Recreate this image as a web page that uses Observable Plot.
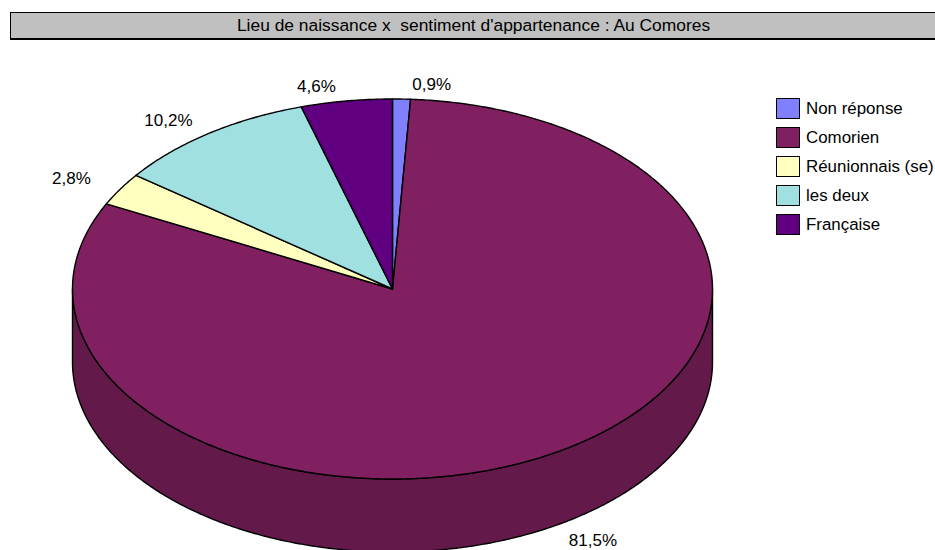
<!DOCTYPE html>
<html>
<head>
<meta charset="utf-8">
<script src="https://cdn.jsdelivr.net/npm/d3@7"></script>
<script src="https://cdn.jsdelivr.net/npm/@observablehq/plot@0.6"></script>
<style>
  body { margin: 0; background: #fff; font-family: "Liberation Sans", Arial, sans-serif; }
  #wrap { position: relative; width: 935px; height: 550px; overflow: hidden; }
  #title {
    position: absolute; left: 10px; top: 12px; width: 927px; height: 28px;
    background: #c0c0c0; border: 1px solid #000; border-bottom-width: 2px; box-sizing: border-box;
    font-size: 17.4px; line-height: 25px; text-align: center; color: #000; white-space: pre;
  }
  #legend { position: absolute; left: 776px; top: 94px; }
  .item { display: flex; align-items: center; height: 29px; }
  .sw { width: 22px; height: 19px; border: 1.5px solid #000; margin-right: 6px; box-sizing: content-box; flex: none; }
  .lab { font-size: 16.9px; color: #000; white-space: nowrap; }
  #chart { position: absolute; left: 0; top: 0; }
</style>
</head>
<body>
<div id="wrap">
  <div id="chart"></div>
  <div id="title"></div>
  <div id="legend"></div>
</div>
<script>
const title = "Lieu de naissance x  sentiment d'appartenance : Au Comores";
const categories = ["Non réponse", "Comorien", "Réunionnais (se)", "les deux", "Française"];
const values = [0.9, 81.5, 2.8, 10.2, 4.6];
const labels = ["0,9%", "81,5%", "2,8%", "10,2%", "4,6%"];
const colors = ["#8080ff", "#802060", "#ffffc0", "#a0e0e0", "#600080"];

// layout geometry (pixels)
const W = 935, H = 550;
const cx = 392.5, cy = 289, rx = 320, ry = 190, depth = 73;

const rad = (deg) => deg * Math.PI / 180;
const ex = (a, r = rx) => cx + r * Math.sin(rad(a));
const ey = (a, r = ry) => cy - r * Math.cos(rad(a));

const total = d3.sum(values);
const slices = [];
let acc = 0;
values.forEach((v, i) => {
  const a0 = acc / total * 360;
  acc += v;
  const a1 = acc / total * 360;
  slices.push({i, a0, a1, mid: (a0 + a1) / 2});
});

function sample(a0, a1) {
  const n = Math.max(2, Math.ceil((a1 - a0) / 0.5) + 1);
  return d3.range(n).map(k => a0 + (a1 - a0) * k / (n - 1));
}

// top faces: fan from centre
const topRows = [];
slices.forEach(s => {
  sample(s.a0, s.a1).forEach(a => {
    topRows.push({key: "top" + s.i, fill: colors[s.i], x1: ex(a), y1: ey(a), x2: cx, y2: cy});
  });
});

// visible side walls (front half: 90°..270°)
const sideRows = [];
slices.forEach(s => {
  const lo = Math.max(s.a0, 90), hi = Math.min(s.a1, 270);
  if (hi <= lo) return;
  const c = d3.color(colors[s.i]).darker(0.7).formatHex();
  sample(lo, hi).forEach(a => {
    sideRows.push({key: "side" + s.i, fill: c, x1: ex(a), y1: ey(a), x2: ex(a), y2: ey(a) + depth});
  });
});

// labels placed just outside each slice
const labelRows = slices.map(s => {
  const sn = Math.sin(rad(s.mid)), cs = Math.cos(rad(s.mid));
  const px = ex(s.mid, rx + 8), py = ey(s.mid, ry + 8) + (cs < 0 ? depth : 0);
  const off = 10 + 25 * Math.pow(sn, 4);
  return {text: labels[s.i], right: sn >= 0,
          x: px + (sn >= 0 ? off : -off), y: py + (cs >= 0 ? -7 : 7)};
});

const chart = Plot.plot({
  width: W, height: H,
  margin: 0,
  x: {type: "linear", domain: [0, W], range: [0, W], axis: null},
  y: {type: "linear", domain: [0, H], range: [0, H], axis: null},
  color: {type: "identity"},
  style: {background: "transparent", fontFamily: "'Liberation Sans', Arial, sans-serif"},
  marks: [
    Plot.area(sideRows, {x1: "x1", y1: "y1", x2: "x2", y2: "y2", z: "key", fill: "fill",
      stroke: "#000", strokeWidth: 1.4, strokeLinejoin: "round", curve: "linear"}),
    Plot.area(topRows, {x1: "x1", y1: "y1", x2: "x2", y2: "y2", z: "key", fill: "fill",
      stroke: "#000", strokeWidth: 1.4, strokeLinejoin: "round", curve: "linear"}),
    Plot.text(labelRows.filter(d => d.right), {x: "x", y: "y", text: "text", textAnchor: "start", fontSize: 17, fill: "#000"}),
    Plot.text(labelRows.filter(d => !d.right), {x: "x", y: "y", text: "text", textAnchor: "end", fontSize: 17, fill: "#000"})
  ]
});
document.getElementById("chart").appendChild(chart);

document.getElementById("title").textContent = title;
const legend = document.getElementById("legend");
categories.forEach((c, i) => {
  const item = document.createElement("div");
  item.className = "item";
  const sw = document.createElement("div");
  sw.className = "sw";
  sw.style.background = colors[i];
  const lab = document.createElement("span");
  lab.className = "lab";
  lab.textContent = c;
  item.appendChild(sw);
  item.appendChild(lab);
  legend.appendChild(item);
});
</script>
</body>
</html>
